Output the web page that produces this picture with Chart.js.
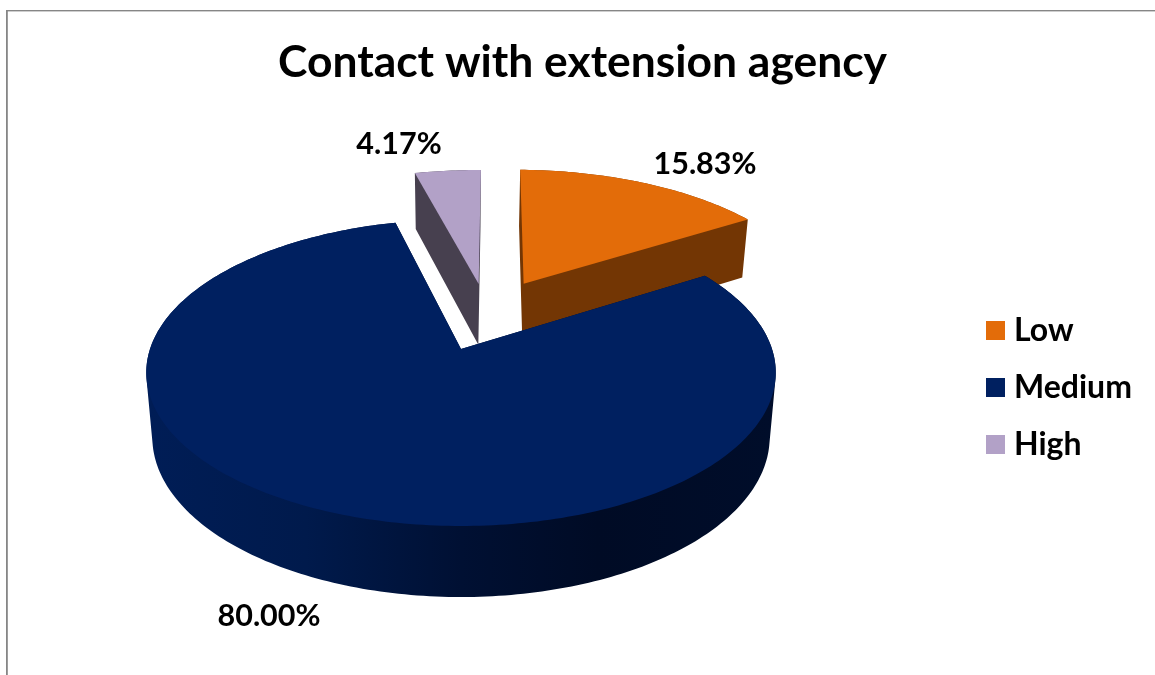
<!DOCTYPE html>
<html>
<head>
<meta charset="utf-8">
<style>
  html, body { margin: 0; padding: 0; background: #fff; }
  #wrap { width: 1155px; height: 675px; position: relative; }
</style>
<script src="https://cdn.jsdelivr.net/npm/chart.js@4"></script>
</head>
<body>
<div id="wrap"><canvas id="chart" width="1155" height="675"></canvas></div>
<script>
// Chart content
const chartTitle = 'Contact with extension agency';
const categories = ['Low', 'Medium', 'High'];
const shares = [15.83, 80.00, 4.17];

// Slice colours
const faceColours = ['#E36C09', '#002060', '#B2A1C7'];
const wallColours = ['#733604', null, '#47404F'];

// Appearance of the tilted, thick pie
const FONT = 'Lato, Carlito, "Open Sans", sans-serif';
const TILT = 0.154;                                  // perspective strength
const CENTRE_X = 461;
const TOP_PLANE = { y: 349, a: 311, b: 149.7 };
const BOTTOM_PLANE = { y: 412.5, a: 305, b: 156.1 };
const SLICE_SHIFT = [[0.2159, -0.4677], [0, 0], [0.0609, -0.465]];
const PAINT_ORDER = [2, 0, 1];
const LABEL_AT = [[705, 164], [269, 616], [399, 144]];
const LEGEND_LEFT = 968;
const LEGEND_MIDDLE = 387.5;

function project(plane, u, v) {
  const w = 1 - TILT * v;
  return [CENTRE_X + plane.a * u / w, plane.y + plane.b * v / w];
}

function tracePolygon(ctx, pts) {
  pts.forEach((s, k) => { if (k === 0) ctx.moveTo(s[0], s[1]); else ctx.lineTo(s[0], s[1]); });
  ctx.closePath();
}

function fillPolygon(ctx, pts) {
  ctx.beginPath();
  tracePolygon(ctx, pts);
  ctx.fill();
}

// Adds a quad to the current path, always with the same winding direction,
// so that overlapping quads merge into one solid shape
function traceQuad(ctx, quad) {
  let area = 0;
  quad.forEach((p, k) => {
    const q = quad[(k + 1) % quad.length];
    area += p[0] * q[1] - q[0] * p[1];
  });
  tracePolygon(ctx, area >= 0 ? quad : quad.slice().reverse());
}

// Rim of a slice in unit-circle plane coordinates
function sliceRim(arc, shift) {
  const pts = [];
  const steps = Math.max(2, Math.ceil((arc.endAngle - arc.startAngle) / (Math.PI / 180)));
  for (let i = 0; i <= steps; i++) {
    const a = arc.startAngle + (arc.endAngle - arc.startAngle) * i / steps;
    pts.push([shift[0] + Math.cos(a), shift[1] + Math.sin(a)]);
  }
  return pts;
}

function mediumWallGradient(ctx) {
  const g = ctx.createLinearGradient(150, 0, 772, 0);
  g.addColorStop(0, '#001D56');
  g.addColorStop(0.25, '#001A4C');
  g.addColorStop(0.5, '#001033');
  g.addColorStop(0.72, '#000B25');
  g.addColorStop(1, '#000D2A');
  return g;
}

// Draws each arc computed by the doughnut controller as a thick slab
const slabPie = {
  id: 'slabPie',
  beforeDatasetsDraw(chart) {
    const ctx = chart.ctx;
    const arcs = chart.getDatasetMeta(0).data;
    ctx.save();
    PAINT_ORDER.forEach(i => {
      const shift = SLICE_SHIFT[i];
      const rim = sliceRim(arcs[i], shift);
      const outline = [shift].concat(rim);
      const topEdge = outline.map(p => project(TOP_PLANE, p[0], p[1]));
      const lowEdge = outline.map(p => project(BOTTOM_PLANE, p[0], p[1]));

      ctx.fillStyle = wallColours[i] || mediumWallGradient(ctx);
      ctx.beginPath();
      tracePolygon(ctx, lowEdge);
      for (let k = 0; k < outline.length; k++) {
        const n = (k + 1) % outline.length;
        traceQuad(ctx, [topEdge[k], topEdge[n], lowEdge[n], lowEdge[k]]);
      }
      ctx.fill();

      ctx.fillStyle = faceColours[i];
      fillPolygon(ctx, topEdge);
    });
    ctx.fillStyle = '#000';
    ctx.font = 'bold 30.5px ' + FONT;
    ctx.textAlign = 'center';
    ctx.textBaseline = 'middle';
    shares.forEach((s, i) => {
      ctx.fillText(s.toFixed(2) + '%', LABEL_AT[i][0], LABEL_AT[i][1]);
    });
    ctx.restore();
    return false;
  }
};

// Thin grey frame along the top and left of the chart
const frame = {
  id: 'frame',
  beforeDraw(chart) {
    const ctx = chart.ctx;
    ctx.save();
    ctx.fillStyle = '#fff';
    ctx.fillRect(0, 0, chart.width, chart.height);
    ctx.fillStyle = '#868686';
    ctx.fillRect(6, 10, chart.width - 6, 1.4);
    ctx.fillRect(6, 10, 1.8, chart.height - 10);
    ctx.restore();
  }
};

// Places the legend block beside the pie
const legendPlacement = {
  id: 'legendPlacement',
  afterLayout(chart) {
    const L = chart.legend;
    const w = L.right - L.left, h = L.bottom - L.top;
    L.left = LEGEND_LEFT;
    L.right = LEGEND_LEFT + w;
    L.top = LEGEND_MIDDLE - h / 2;
    L.bottom = LEGEND_MIDDLE + h / 2;
  }
};

new Chart(document.getElementById('chart'), {
  type: 'pie',
  data: {
    labels: categories,
    datasets: [{ data: shares, backgroundColor: faceColours }]
  },
  plugins: [frame, legendPlacement, slabPie],
  options: {
    responsive: false,
    animation: false,
    rotation: 1,
    layout: { padding: { left: 10, right: 0, top: 0, bottom: 0 } },
    plugins: {
      tooltip: { enabled: false },
      title: {
        display: true,
        text: chartTitle,
        color: '#000',
        font: { family: FONT, size: 44.4, weight: 'bold' },
        padding: { top: 36, bottom: 12 }
      },
      legend: {
        position: 'right',
        labels: {
          color: '#000',
          font: { family: FONT, size: 32, weight: 'bold' },
          boxWidth: 5,
          boxHeight: 5,
          padding: 25,
          generateLabels: chart => categories.map((name, i) => ({
            text: name,
            fillStyle: faceColours[i],
            strokeStyle: faceColours[i],
            lineWidth: 14,
            index: i
          }))
        }
      }
    }
  }
});
</script>
</body>
</html>
